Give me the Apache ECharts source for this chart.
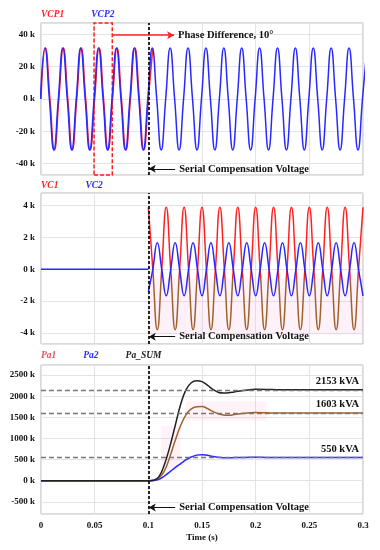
<!DOCTYPE html>
<html><head><meta charset="utf-8">
<script src="https://cdn.jsdelivr.net/npm/echarts@6/dist/echarts.min.js"></script>
<style>html,body{margin:0;padding:0;background:#fff}#c{width:380px;height:550px}</style>
</head><body><div id="c"></div>
<script>
// ---- data (voltages in kV, powers in kVA) ----
const quarterPeriod = 1 / 240;       // 60 Hz, samples at peaks / zero crossings
const compTime = 0.1;                // serial compensation start (s)
const vcp1Lag = 0.00046;             // 10 degree lag of VCP1 before compensation (s)
const vcpStart = -0.0005;
const vcp2 = [0,31.5,0,-31.5,0,31.5,0,-31.5,0,31.5,0,-31.5,0,31.5,0,-31.5,0,31.5,0,-31.5,0,31.5,0,-31.5,
  0,31.5,0,-31.5,0,31.5,0,-31.5,0,31.5,0,-31.5,0,31.5,0,-31.5,0,31.5,0,-31.5,0,31.5,0,-31.5,
  0,31.5,0,-31.5,0,31.5,0,-31.5,0,31.5,0,-31.5,0,31.5,0,-31.5,0,31.5,0,-31.5,0,31.5,0,-31.5,0,31.5];
const vcStart = 0.1;
const vc1 = [3.9,0,-3.8,0,3.9,0,-3.8,0,3.9,0,-3.8,0,3.9,0,-3.8,0,3.9,0,-3.8,0,3.9,0,-3.8,0,
  3.9,0,-3.8,0,3.9,0,-3.8,0,3.9,0,-3.8,0,3.9,0,-3.8,0,3.9,0,-3.8,0,3.9,0,-3.8,0,3.9];
const vc2 = [-1.4,0,1.67,0,-1.67,0,1.67,0,-1.67,0,1.67,0,-1.67,0,1.67,0,-1.67,0,1.67,0,-1.67,0,1.67,0,
  -1.67,0,1.67,0,-1.67,0,1.67,0,-1.67,0,1.67,0,-1.67,0,1.67,0,-1.67,0,1.67,0,-1.67,0,1.67,0,-1.67];
const pTime = [0,0.1,0.105,0.11,0.115,0.12,0.125,0.13,0.135,0.14,0.145,0.15,0.155,0.16,0.165,0.17,0.175,0.18,0.19,0.2,0.21,0.22,0.24,0.26,0.28,0.3];
const pa1   = [0,0,5,60,230,560,950,1300,1560,1700,1750,1755,1710,1640,1585,1555,1550,1565,1595,1612,1608,1603,1603,1603,1603,1603];
const pa2   = [0,0,2,30,110,210,310,400,490,560,605,615,600,575,555,545,543,546,551,552,551,550,550,550,550,550];
const paSum = [0,0,10,100,380,800,1300,1800,2150,2320,2365,2345,2265,2165,2095,2075,2080,2100,2140,2165,2162,2155,2153,2154,2153,2153];
const refLevels = [2153, 1603, 550];
const xTicksStep = 0.05;

// ---- build series data ----
const vcp2Data = vcp2.map((v, k) => [vcpStart + k * quarterPeriod, v]);
// after compensation VCP1 coincides with VCP2 (hidden under it)
const vcp1Data = vcp2.map((v, k) => [vcpStart + k * quarterPeriod + vcp1Lag, v])
  .filter(p => p[0] <= compTime + quarterPeriod);
// before compensation VC1 = VC2 = 0 (drawn by VC2 on top)
const vc1Data = vc1.map((v,k)=>[vcStart + k*quarterPeriod, v]);
const vc2Data = [[0,0],[compTime,0],[compTime,'-']].concat(vc2.map((v,k)=>[vcStart + k*quarterPeriod, v]));
const pa1Data = pTime.map((t,i)=>[t, pa1[i]]);
const pa2Data = pTime.map((t,i)=>[t, pa2[i]]);
const paSumData = pTime.map((t,i)=>[t, paSum[i]]);

const FONT = 'Liberation Serif';
const RED = '#ff2020', BLUE = '#2828ff', BROWN = '#a0622d';
const gridLine = {show:true, lineStyle:{color:'#e3e3e3', width:1}};
const tickLabel = {fontFamily:FONT, fontWeight:'bold', fontSize:9, color:'#111'};

function xAx(i, showLabel){
  return {type:'value', gridIndex:i, min:0, max:0.3, interval:xTicksStep,
    axisLine:{show:false}, axisTick:{show:false}, splitLine:gridLine,
    axisLabel:Object.assign({show:showLabel, margin:7}, tickLabel),
    name: showLabel ? 'Time (s)' : '', nameLocation:'middle', nameGap:19,
    nameTextStyle:{fontFamily:FONT, fontWeight:'bold', fontSize:9, color:'#111'}};
}
function yAx(i, min, max, split){
  return {type:'value', gridIndex:i, min:min, max:max, splitNumber:split,
    axisLine:{show:false}, axisTick:{show:false}, splitLine:gridLine,
    axisLabel:Object.assign({showMinLabel:false, showMaxLabel:false, margin:6,
      formatter:v=>v+' k'}, tickLabel)};
}
function compLines(yVal){
  return [
    {xAxis:compTime, lineStyle:{color:'#111', type:[3,2], width:1.8}, label:{show:false}},
    [{coord:[0.1004, yVal], symbol:'arrow', symbolSize:[6,7]},
     {coord:[0.125, yVal], symbol:'none',
      lineStyle:{color:'#111', type:'solid', width:1},
      label:{show:true, position:'end', distance:4, formatter:'Serial Compensation Voltage',
        fontFamily:FONT, fontWeight:'bold', fontSize:10.5, color:'#111'}}]
  ];
}
const legendText = {fontFamily:FONT, fontWeight:'bold', fontStyle:'italic', fontSize:9.5};
function legend(top, items){
  return {top:top, left:36, padding:0, itemWidth:0, itemHeight:14, itemGap:22, icon:'rect',
    selectedMode:false,
    data:items.map(([n,c])=>({name:n, textStyle:Object.assign({color:c}, legendText)}))};
}

const option = {
  animation:false,
  backgroundColor:'#fff',
  legend:[legend(8,[['VCP1',RED],['VCP2',BLUE]]),
          legend(179,[['VC1',RED],['VC2',BLUE]]),
          legend(349,[['Pa1','#e8505a'],['Pa2',BLUE],['Pa_SUM','#222']])],
  grid:[
    {left:41, right:17, top:23, height:152, show:true, borderColor:'#b5b5b5', borderWidth:1},
    {left:41, right:17, top:193, height:151, show:true, borderColor:'#b5b5b5', borderWidth:1},
    {left:41, right:17, top:365, height:149, show:true, borderColor:'#b5b5b5', borderWidth:1}
  ],
  xAxis:[xAx(0,false), xAx(1,false), xAx(2,true)],
  yAxis:[yAx(0,-47,47,5), yAx(1,-4.7,4.8,5), yAx(2,-790,2740,7)],
  visualMap:[{show:false, type:'piecewise', seriesIndex:2, dimension:1,
    pieces:[{min:-10, max:-0.6, color:BROWN},{min:-0.6, max:10, color:RED}]}],
  series:[
    {name:'VCP1', type:'line', xAxisIndex:0, yAxisIndex:0, data:vcp1Data, smooth:0.5, showSymbol:false,
      lineStyle:{color:RED, width:1.5}, itemStyle:{color:RED}},
    {name:'VCP2', type:'line', xAxisIndex:0, yAxisIndex:0, data:vcp2Data, smooth:0.5, showSymbol:false,
      lineStyle:{color:BLUE, width:1.5}, itemStyle:{color:BLUE},
      markArea:{silent:true, itemStyle:{color:'rgba(0,0,0,0)', borderColor:'#ff2020', borderType:[4,2], borderWidth:1.5},
        data:[[{xAxis:0.0494},{xAxis:0.0664}]]},
      markLine:{silent:true, symbol:'none', animation:false,
        data:compLines(-43.2).concat([[
          {coord:[0.0664, 39.5], symbol:'none'},
          {coord:[0.124, 39.5], symbol:'arrow', symbolSize:[6,7],
            lineStyle:{color:'#ff2020', type:'solid', width:1.5},
            label:{show:true, position:'end', distance:4, formatter:'Phase Difference, 10°',
              fontFamily:FONT, fontWeight:'bold', fontSize:10.5, color:'#111'}}]])}},
    {name:'VC1', type:'line', xAxisIndex:1, yAxisIndex:1, data:vc1Data, smooth:0.5, showSymbol:false,
      lineStyle:{width:1.5}, itemStyle:{color:RED},
      markArea:{silent:true, itemStyle:{color:'rgba(255,170,215,0.16)'},
        data:[[{xAxis:0.1005, yAxis:-0.6},{xAxis:0.3, yAxis:-4.1}]]}},
    {name:'VC2', type:'line', xAxisIndex:1, yAxisIndex:1, data:vc2Data, smooth:0.5, showSymbol:false,
      lineStyle:{color:BLUE, width:1.5}, itemStyle:{color:BLUE},
      markLine:{silent:true, symbol:'none', animation:false, data:compLines(-4.24)}},
    {name:'Pa1', type:'line', xAxisIndex:2, yAxisIndex:2, data:pa1Data, smooth:0.4, showSymbol:false,
      lineStyle:{color:BROWN, width:1.5}, itemStyle:{color:BROWN},
      markArea:{silent:true, itemStyle:{color:'rgba(255,170,215,0.14)'},
        data:[[{xAxis:0.135, yAxis:1420},{xAxis:0.21, yAxis:1880}],
              [{xAxis:0.112, yAxis:300},{xAxis:0.13, yAxis:1300}]]}},
    {name:'Pa2', type:'line', xAxisIndex:2, yAxisIndex:2, data:pa2Data, smooth:0.4, showSymbol:false,
      lineStyle:{color:BLUE, width:1.5}, itemStyle:{color:BLUE}},
    {name:'Pa_SUM', type:'line', xAxisIndex:2, yAxisIndex:2, data:paSumData, smooth:0.4, showSymbol:false,
      lineStyle:{color:'#222', width:1.5}, itemStyle:{color:'#222'},
      markLine:{silent:true, symbol:'none', animation:false,
        data:refLevels.map(v=>({yAxis:v, lineStyle:{color:'#777', type:[5,3], width:1.3},
          label:{show:true, position:'insideEndTop', distance:[4,3], formatter:v+' kVA',
            fontFamily:FONT, fontWeight:'bold', fontSize:10.5, color:'#111'}}))
          .concat(compLines(-636))}}
  ]
};
const chart = echarts.init(document.getElementById('c'), null, {renderer:'canvas'});
chart.setOption(option);
</script></body></html>
